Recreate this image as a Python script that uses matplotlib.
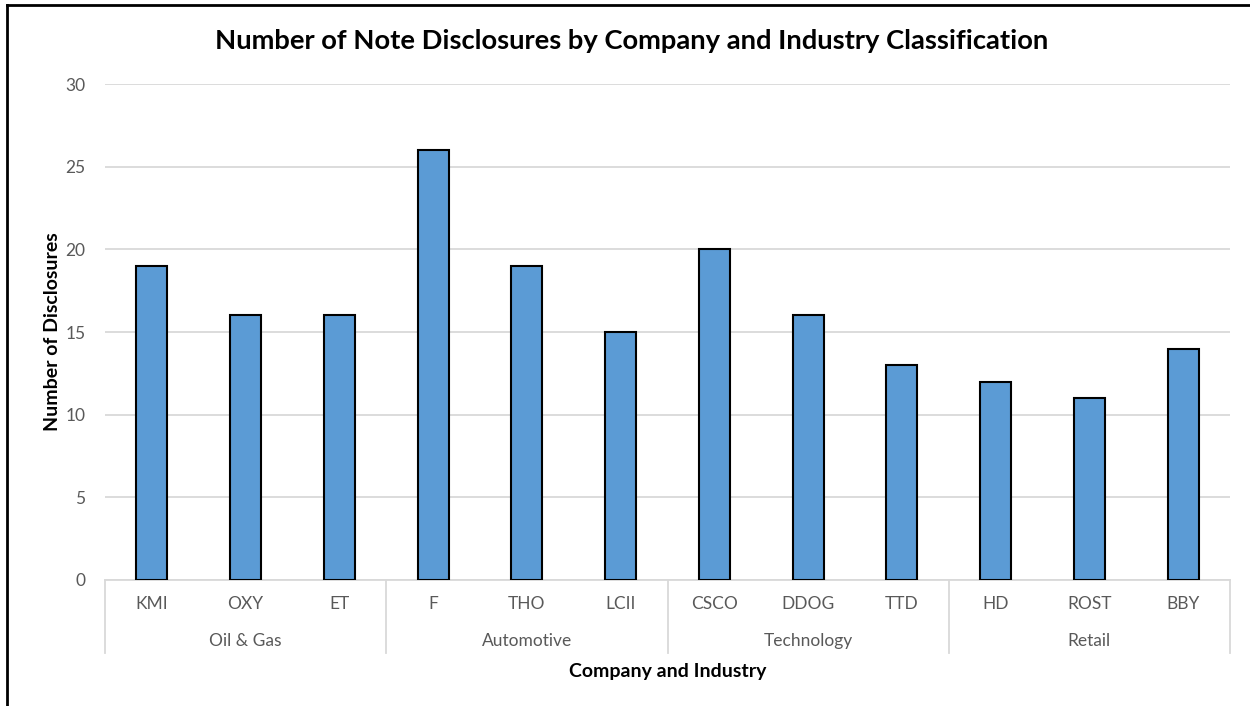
import matplotlib
matplotlib.use("Agg")
import matplotlib.pyplot as plt
import matplotlib.transforms as mtransforms
from matplotlib.lines import Line2D

# data
companies = ["KMI", "OXY", "ET", "F", "THO", "LCII", "CSCO", "DDOG", "TTD", "HD", "ROST", "BBY"]
disclosures = [19, 16, 16, 26, 19, 15, 20, 16, 13, 12, 11, 14]
industries = ["Oil & Gas", "Automotive", "Technology", "Retail"]
group_sizes = [3, 3, 3, 3]

plt.rcParams["font.family"] = ["Lato", "DejaVu Sans"]

W, H = 1250, 706
fig = plt.figure(figsize=(W / 100, H / 100), dpi=100)

# plot area in pixels
left, right, top, bottom = 105, 1230, 84, 580
ax = fig.add_axes([left / W, (H - bottom) / H, (right - left) / W, (bottom - top) / H])
ph = bottom - top

x = list(range(len(companies)))
ax.bar(x, disclosures, width=0.33, color="#5B9BD5", edgecolor="black", linewidth=1.5, zorder=3)

ax.set_xlim(-0.5, len(companies) - 0.5)
ax.set_ylim(0, 30)
ax.set_yticks(range(0, 31, 5))
ax.yaxis.grid(True, color="#D9D9D9", linewidth=1.3, zorder=0)
ax.tick_params(axis="y", length=0, pad=14, labelsize=12.5, labelcolor="#595959")
ax.set_xticks([])
for s in ["top", "right", "left"]:
    ax.spines[s].set_visible(False)
ax.spines["bottom"].set_color("#D9D9D9")
ax.spines["bottom"].set_linewidth(1.3)

trans = mtransforms.blended_transform_factory(ax.transData, ax.transAxes)

# company labels
for i, c in enumerate(companies):
    ax.text(i, -24 / ph, c, transform=trans, ha="center", va="center",
            fontsize=12.5, color="#595959")

# industry labels and separators
start = 0
bounds = [-0.5]
for name, n in zip(industries, group_sizes):
    mid = start + (n - 1) / 2
    ax.text(mid, -61 / ph, name, transform=trans, ha="center", va="center",
            fontsize=12.5, color="#595959")
    start += n
    bounds.append(start - 0.5)
for b in bounds:
    ax.add_line(Line2D([b, b], [0, -73 / ph], transform=trans, color="#D9D9D9",
                       linewidth=1.3, clip_on=False))

ax.text(0.5, -91 / ph, "Company and Industry", transform=ax.transAxes, ha="center",
        va="center", fontsize=14, fontweight="bold", color="black")
ax.set_ylabel("Number of Disclosures", fontsize=14, fontweight="bold", color="black", labelpad=3)

fig.text(632 / W, 1 - 41 / H, "Number of Note Disclosures by Company and Industry Classification",
         ha="center", va="center", fontsize=19.7, fontweight="bold", color="black")

# outer frame (top and left edges visible)
fig.add_artist(Line2D([7 / W, 1], [1 - 5 / H, 1 - 5 / H], transform=fig.transFigure,
                      color="black", linewidth=2))
fig.add_artist(Line2D([7 / W, 7 / W], [0, 1 - 5 / H], transform=fig.transFigure,
                      color="black", linewidth=2))

fig.savefig("out.png", dpi=100)
